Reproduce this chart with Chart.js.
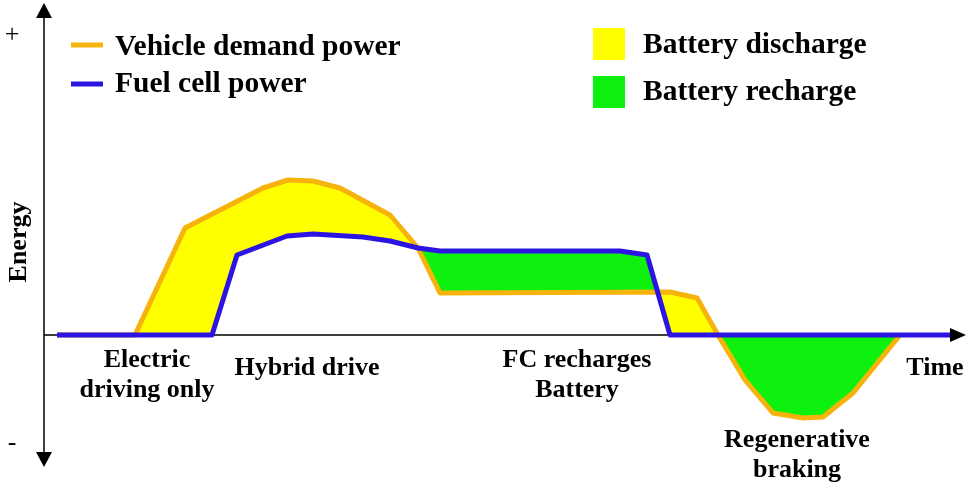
<!DOCTYPE html>
<html>
<head>
<meta charset="utf-8">
<script src="https://cdn.jsdelivr.net/npm/chart.js@4/dist/chart.umd.min.js"></script>
<style>
html,body{margin:0;padding:0;background:#fff;}
#wrap{width:968px;height:490px;position:relative;}
</style>
</head>
<body>
<div id="wrap"><canvas id="c"></canvas></div>
<script>
// Time / energy values (arbitrary units)
const demandTime   = [13, 91, 141, 219, 244, 269, 296, 346, 374, 396, 626, 653, 674, 701, 729, 759, 779, 809, 856];
const demandEnergy = [0, 0, 107, 147, 155, 154, 147, 120, 87, 42, 43, 37, 0, -45, -78, -83, -82, -58, 0];
const fcTime   = [13, 168, 193, 243, 269, 319, 346, 374, 396, 576, 603, 626, 906];
const fcEnergy = [0, 0, 80, 99, 101, 98, 94, 87, 84, 84, 80, 0, 0];

const seriesNames = ['Vehicle demand power', 'Fuel cell power'];
const areaNames = ['Battery discharge', 'Battery recharge'];
const phaseLabels = [
  {t: 103, e: -32, lines: ['Electric', 'driving only']},
  {t: 263, e: -40, lines: ['Hybrid drive']},
  {t: 533, e: -32, lines: ['FC recharges', 'Battery']},
  {t: 891, e: -40, lines: ['Time']},
  {t: 753, e: -112, lines: ['Regenerative', 'braking']}
];
const axisLabel = 'Energy';

const ORANGE = '#F6B30C', BLUE = '#2C14E2', YELLOW = '#FFFF00', GREEN = '#0EF00E';

const pts = (xs, ys) => xs.map((x, i) => ({x, y: ys[i]}));

const decor = {
  id: 'decor',
  beforeDatasetsDraw(chart) {
    const {ctx, scales: {x, y}} = chart;
    const x0 = x.getPixelForValue(0), y0 = y.getPixelForValue(0);
    const yTop = y.getPixelForValue(332), yBot = y.getPixelForValue(-132);
    const xEnd = x.getPixelForValue(922);
    ctx.save();
    ctx.strokeStyle = '#000'; ctx.fillStyle = '#000'; ctx.lineWidth = 1.5;
    ctx.beginPath();
    ctx.moveTo(x0, yTop + 14); ctx.lineTo(x0, yBot - 14);
    ctx.moveTo(x0, y0); ctx.lineTo(xEnd - 14, y0);
    ctx.stroke();
    ctx.beginPath(); ctx.moveTo(x0, yTop); ctx.lineTo(x0 - 8, yTop + 15); ctx.lineTo(x0 + 8, yTop + 15); ctx.closePath(); ctx.fill();
    ctx.beginPath(); ctx.moveTo(x0, yBot); ctx.lineTo(x0 - 8, yBot - 15); ctx.lineTo(x0 + 8, yBot - 15); ctx.closePath(); ctx.fill();
    ctx.restore();
  },
  afterDatasetsDraw(chart) {
    const {ctx, scales: {x, y}} = chart;
    const x0 = x.getPixelForValue(0);
    ctx.save();
    ctx.fillStyle = '#000';
    const y0 = y.getPixelForValue(0), xEnd = x.getPixelForValue(922);
    ctx.beginPath(); ctx.moveTo(xEnd, y0); ctx.lineTo(xEnd - 16, y0 - 7); ctx.lineTo(xEnd - 16, y0 + 7); ctx.closePath(); ctx.fill();
    ctx.font = '26px "Liberation Serif"';
    ctx.textAlign = 'center'; ctx.textBaseline = 'middle';
    ctx.fillText('+', x0 - 32, y.getPixelForValue(300));
    ctx.fillText('-', x0 - 32, y.getPixelForValue(-108));
    ctx.save();
    ctx.translate(x0 - 25, y.getPixelForValue(93));
    ctx.rotate(-Math.PI / 2);
    ctx.font = 'bold 26px "Liberation Serif"';
    ctx.fillText(axisLabel, 0, 0);
    ctx.restore();
    ctx.font = 'bold 26px "Liberation Serif"';
    ctx.textBaseline = 'alphabetic';
    phaseLabels.forEach(p => {
      p.lines.forEach((l, i) => ctx.fillText(l, x.getPixelForValue(p.t), y.getPixelForValue(p.e) + i * 30));
    });
    ctx.textAlign = 'left';
    ctx.font = 'bold 29.5px "Liberation Serif"';
    const lx = x0 + 27;
    [[ORANGE, 45, 55], [BLUE, 84, 92]].forEach(([c, ly, by], i) => {
      ctx.strokeStyle = c; ctx.lineWidth = 5;
      ctx.beginPath(); ctx.moveTo(lx, ly); ctx.lineTo(lx + 32, ly); ctx.stroke();
      ctx.fillText(seriesNames[i], lx + 44, by);
    });
    [[YELLOW, 28, 53], [GREEN, 76, 100]].forEach(([c, sy, by], i) => {
      ctx.fillStyle = c; ctx.fillRect(593, sy, 32, 32);
      ctx.fillStyle = '#000';
      ctx.fillText(areaNames[i], 643, by);
    });
    ctx.restore();
  }
};

new Chart(document.getElementById('c'), {
  type: 'line',
  data: {
    datasets: [
      {label: seriesNames[1], data: pts(fcTime, fcEnergy), borderColor: BLUE, borderWidth: 5,
       pointRadius: 0, tension: 0, fill: false, borderJoinStyle: 'round'},
      {label: seriesNames[0], data: pts(demandTime, demandEnergy), borderColor: ORANGE, borderWidth: 5,
       pointRadius: 0, tension: 0, borderJoinStyle: 'round',
       fill: {target: 0, above: YELLOW, below: GREEN}}
    ]
  },
  options: {
    responsive: true, maintainAspectRatio: false, animation: false, devicePixelRatio: 1,
    layout: {padding: 0},
    plugins: {legend: {display: false}, tooltip: {enabled: false}},
    scales: {
      x: {type: 'linear', min: -44, max: 924, display: false},
      y: {type: 'linear', min: -155, max: 335, display: false}
    }
  },
  plugins: [decor]
});
</script>
</body>
</html>
